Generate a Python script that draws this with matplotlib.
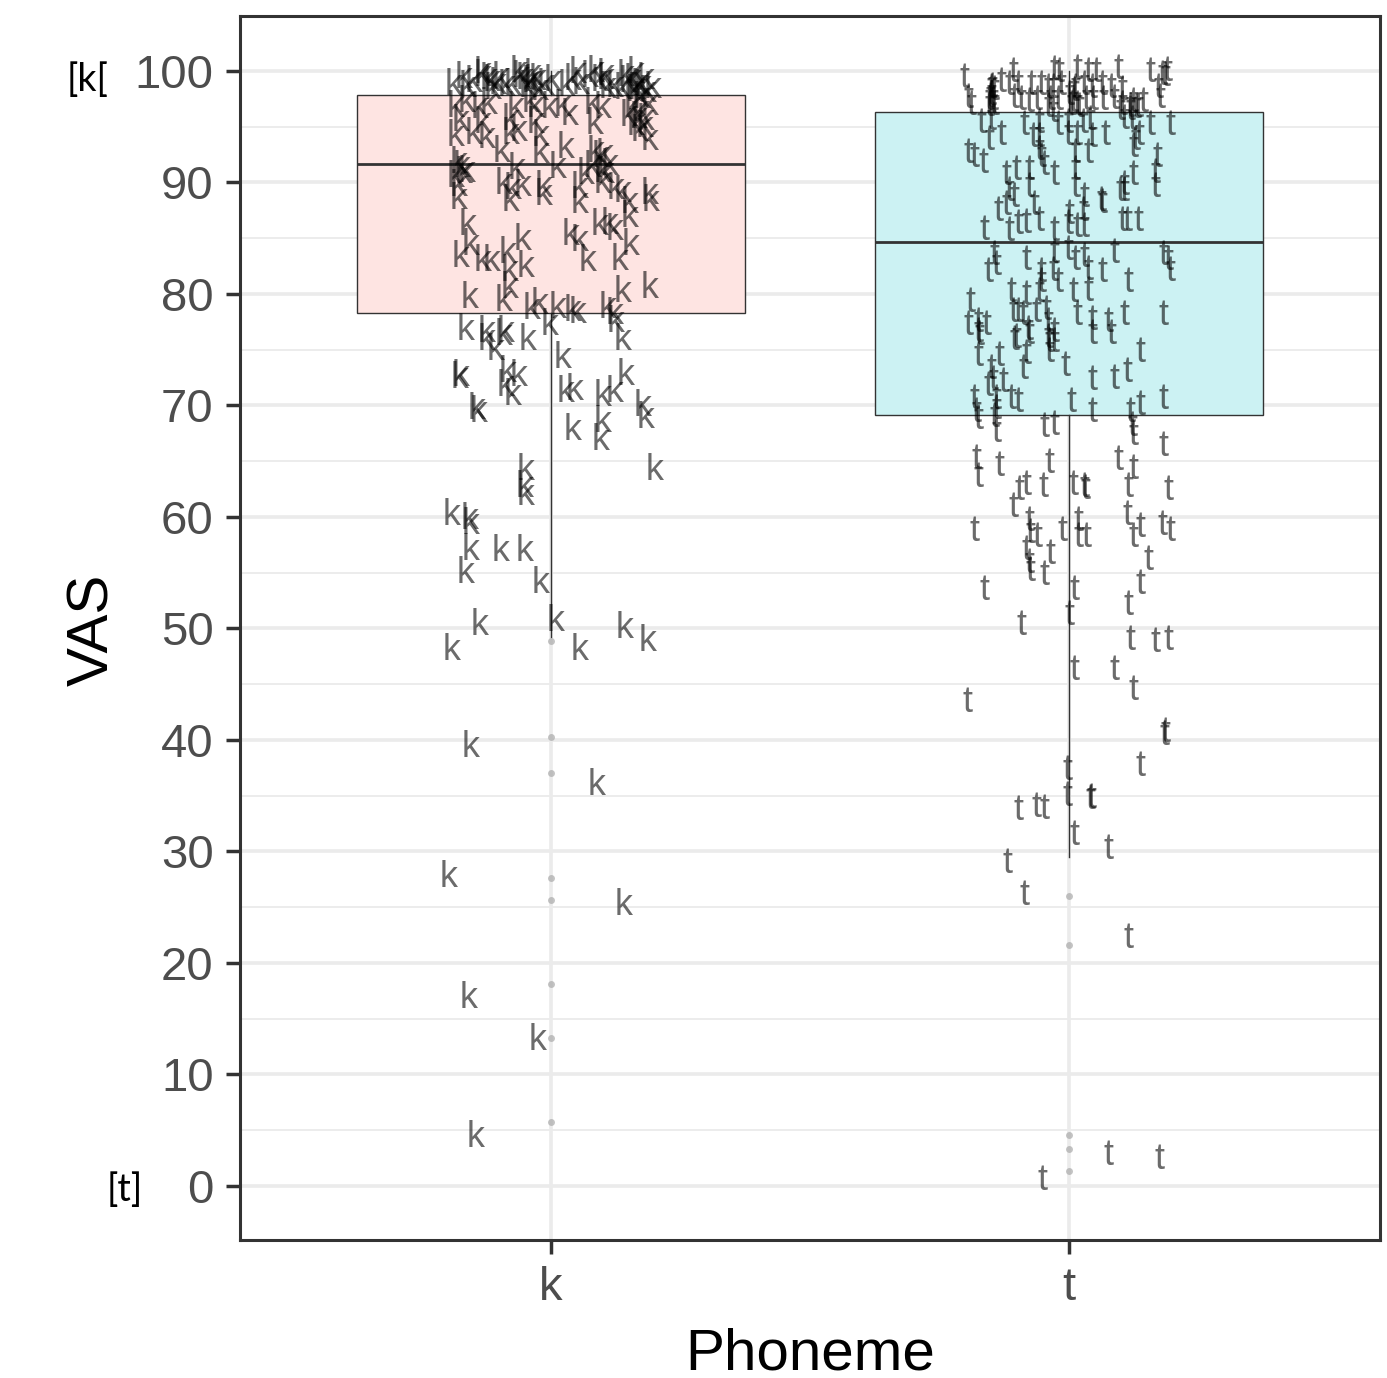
import matplotlib
matplotlib.use("Agg")
import matplotlib.pyplot as plt
from matplotlib.transforms import ScaledTranslation

# ---------------- data ----------------
categories = ["k", "t"]

# box statistics
box_q1 = [78.3, 69.1]
box_med = [91.7, 84.7]
box_q3 = [97.8, 96.3]
whisk_lo = [49.2, 29.5]
whisk_hi = [100.0, 100.0]
k_outliers = [48.9, 40.3, 37.0, 27.6, 25.6, 18.1, 13.3, 5.7]
t_outliers = [26.0, 21.6, 4.6, 3.3, 1.3]

# jittered labels: horizontal jitter (category units) and VAS value
k_jitter = [
    -0.154, 0.088, -0.198, 0.140, -0.158, -0.025, -0.146,
    -0.165, -0.125, -0.092, -0.044, -0.002, 0.023, 0.138, 0.125, -0.106, -0.175, -0.177, -0.083, -0.063,
    -0.088, -0.073, 0.029, 0.046, 0.100, 0.123, 0.144, -0.140, -0.144, 0.177, 0.183, 0.042, 0.100, 0.096,
    0.200, -0.048, -0.050, -0.048, -0.192, -0.156, -0.154, -0.154, -0.098, -0.050, -0.165, -0.019, -0.137,
    0.010, 0.142, -0.192, 0.056, 0.187,
    -0.125, -0.088,
    -0.179, -0.077, -0.015, 0.056, 0.152, 0.192, -0.160, -0.054, 0.038, 0.056, 0.094, 0.113, 0.123, 0.152,
    0.154, -0.175, -0.154, -0.131, -0.115, -0.083, -0.079, -0.048, 0.071, 0.133, -0.079, -0.156, -0.092,
    -0.021, 0.013, 0.042, 0.110, 0.138, 0.190, 0.123, -0.038, 0.052,
    -0.188, -0.169, -0.150, -0.131, -0.115, -0.098, -0.073, -0.058, -0.040, -0.025, -0.010, 0.004, 0.042,
    0.058, 0.075, 0.094, 0.106, 0.123, 0.158, 0.171, 0.183, 0.196,
    -0.131, -0.063, -0.035, 0.052, 0.087, 0.106, 0.163,
    -0.112, -0.102, -0.044, -0.035, -0.021, 0.138, 0.148, 0.162, 0.177, 0.187,
    -0.160, -0.120, -0.085, -0.050, 0.030, 0.110, 0.145, 0.165, 0.175, 0.150, 0.170, 0.180,
    -0.183, -0.163, -0.137, -0.121, -0.069, -0.040, -0.029, -0.002, 0.023, 0.037, 0.081, 0.100, 0.158,
    0.173, 0.190,
    -0.175, -0.131, -0.077, -0.029, 0.085, 0.163, 0.183,
    -0.183, -0.150, -0.125, -0.077, -0.063, -0.019, 0.171, 0.190,
    -0.096, -0.019, 0.029, 0.087, 0.104,
    -0.173, -0.163, -0.067, 0.013, 0.067, 0.081, 0.100, 0.113, -0.179, -0.169, -0.183, 0.096, 0.106,
    -0.179, -0.092, -0.073, -0.054, -0.015, 0.056, 0.100, 0.125, 0.138, 0.190,
]
k_vas = [
    39.6, 36.2, 27.9, 25.4, 17.1, 13.3, 4.6,
    77.0, 76.1, 76.5, 76.1, 77.4, 74.5, 76.1, 77.7, 75.2, 72.9, 72.7, 73.2, 72.9,
    72.0, 71.2, 71.4, 71.6, 71.1, 71.4, 73.0, 69.6, 69.9, 70.2, 69.1, 68.0, 68.7, 67.1,
    64.4, 64.4, 62.9, 62.2, 60.4, 60.0, 59.6, 57.3, 57.2, 57.2, 55.2, 54.3, 50.5,
    50.9, 50.3, 48.3, 48.3, 49.1,
    76.8, 76.8,
    88.7, 88.6, 89.1, 88.4, 88.4, 88.6, 86.4, 85.1, 85.5, 85.0, 86.4, 86.5, 86.0, 87.1,
    84.6, 83.5, 84.6, 83.2, 83.2, 83.9, 82.3, 82.6, 83.2, 83.3, 80.8, 79.9, 79.6,
    79.3, 79.0, 78.7, 79.0, 80.4, 80.8, 78.4, 78.9, 78.5,
    99.0, 99.6, 99.2, 99.8, 99.3, 99.6, 99.0, 99.7, 99.2, 99.4, 99.0, 99.3, 99.4,
    99.1, 99.7, 99.3, 99.5, 98.8, 99.4, 99.0, 99.5, 98.7,
    100.0, 100.1, 99.9, 100.0, 100.1, 99.9, 100.0,
    98.6, 99.1, 98.8, 99.3, 98.5, 98.6, 99.2, 98.4, 98.9, 98.3,
    98.8, 99.5, 98.9, 99.5, 98.9, 98.7, 99.8, 98.6, 97.8, 96.2, 96.0, 95.2,
    97.0, 97.4, 96.9, 97.3, 96.9, 97.4, 97.0, 96.9, 97.1, 96.3, 97.3, 96.9, 97.0,
    96.6, 97.2,
    95.7, 95.6, 95.8, 95.6, 95.5, 95.4, 95.8,
    94.4, 94.6, 94.2, 94.6, 94.8, 94.4, 94.8, 94.0,
    93.0, 92.9, 93.3, 93.0, 92.7,
    91.6, 91.2, 91.4, 91.5, 91.0, 91.6, 91.2, 91.8, 92.0, 91.1, 90.7, 92.5, 91.1,
    89.9, 90.1, 89.6, 89.9, 89.8, 89.7, 90.2, 89.6, 89.4, 89.2,
]

t_jitter = [
    -0.196, 0.187, 0.185, 0.137, -0.004, -0.004, 0.042, 0.044, -0.098, -0.063, -0.048, 0.010, 0.077,
    -0.119, -0.087, 0.115, 0.077, 0.175, -0.052,
    -0.173, -0.102, -0.077, -0.040, -0.029, 0.046, 0.081, -0.175, -0.135, -0.083, -0.088, -0.038, -0.006,
    0.137, -0.150, -0.146, -0.156, -0.127, 0.046, 0.087, 0.113, -0.183, -0.179, -0.140, -0.140, -0.144,
    -0.112, -0.098, 0.004, 0.046, 0.119, 0.138, 0.183,
    -0.175, -0.140, -0.048, -0.029, 0.123, 0.125, 0.183, -0.179, -0.175, -0.135, -0.038, 0.096, 0.125,
    -0.083, -0.096, -0.050, 0.008, 0.029, 0.031, 0.115, 0.192, -0.108, 0.113, -0.183, -0.077, -0.075,
    -0.060, -0.012, 0.019, 0.019, 0.033, 0.125, 0.138, 0.181, 0.196, -0.083, -0.077, -0.035, -0.048,
    -0.075, 0.154, -0.163, 0.010, 0.137, 0.115, 0.000, -0.092, 0.119, 0.167, 0.192, 0.010, 0.087, 0.125,
    -0.202, -0.108, -0.029, -0.019, 0.017, 0.037, 0.052, 0.096, 0.158, 0.187,
    -0.150, -0.144, -0.131, -0.115, -0.098, -0.073, -0.054, -0.040, -0.031, -0.015, 0.013, 0.029, 0.046,
    0.065, 0.081, 0.104, 0.173,
    -0.194, -0.188, -0.154, -0.144, -0.106, -0.092, -0.077, -0.060, -0.035, -0.021, 0.004, 0.017, 0.033,
    0.048, 0.067, 0.087, 0.104, 0.119, 0.133, 0.144, 0.177,
    -0.150, -0.146, -0.154, 0.000, 0.008, 0.100, 0.119,
    -0.148, -0.152, 0.010, 0.020, 0.125, 0.130, -0.040, -0.030, 0.180, 0.190,
    -0.169, -0.150, -0.087, -0.058, -0.021, -0.002, 0.027, 0.042, 0.106, 0.123, 0.158, 0.196,
    -0.154, -0.131, -0.069, -0.058, -0.002, 0.017, 0.046, 0.071, 0.129, 0.135,
    -0.194, -0.183, -0.165, -0.058, -0.054, 0.013, 0.038, 0.125, 0.171,
    -0.121, -0.102, -0.077, -0.048, -0.029, 0.013, 0.106, 0.125, 0.167,
    -0.115, -0.077, 0.013, 0.029, 0.065, 0.100, 0.106, 0.167,
    -0.137, -0.121, -0.106, -0.067, 0.000, 0.027, 0.062,
    -0.163, -0.115, -0.098, -0.083, -0.058, -0.029, -0.002, 0.017, 0.029, 0.104, 0.113, 0.133,
    -0.144, -0.083, -0.029, -0.002, 0.013, 0.029, 0.087, 0.183, 0.192,
    -0.156, -0.140, -0.054, -0.031, 0.037, 0.065, 0.115, 0.196,
    -0.112, -0.083, -0.058, -0.021, 0.008, 0.038, -0.054,
    -0.190, -0.194, -0.175, -0.160, -0.108, -0.098, -0.088, -0.063, -0.044, 0.017, 0.046, 0.077, 0.106,
    0.183,
    -0.175, -0.106, -0.079, -0.040, -0.029, -0.038,
]
t_vas = [
    43.6, 40.9, 40.7, 37.9, 37.5, 35.2, 34.9, 35.0, 33.9, 34.2, 34.0, 31.7, 30.4,
    29.2, 26.3, 22.5, 3.0, 2.6, 0.8,
    76.5, 76.3, 76.6, 76.3, 75.9, 76.6, 76.6, 74.7, 74.7, 74.8, 73.5, 75.0, 73.8,
    75.0, 73.5, 72.5, 72.0, 72.3, 72.5, 72.6, 73.2, 70.8, 69.6, 70.8, 69.9, 69.2,
    70.8, 70.5, 70.5, 69.6, 69.6, 70.3, 70.8,
    69.0, 67.8, 68.3, 68.5, 68.4, 67.6, 66.6, 65.4, 63.8, 64.8, 65.1, 65.3, 64.5,
    63.1, 62.6, 62.9, 63.1, 62.9, 62.7, 62.9, 62.6, 61.1, 60.4, 59.0, 59.9, 58.8,
    58.4, 59.0, 59.9, 58.4, 58.4, 58.4, 59.3, 59.5, 59.0, 57.3, 56.1, 56.9, 55.0,
    55.4, 56.4, 53.7, 53.7, 54.2, 52.3, 51.4, 50.5, 49.2, 49.0, 49.2, 46.5, 46.5, 44.7,
    99.6, 100.1, 100.3, 100.1, 100.4, 100.1, 100.1, 100.4, 100.1, 99.8,
    98.7, 98.5, 99.2, 99.0, 99.0, 99.0, 99.0, 98.7, 98.7, 99.0, 98.7, 99.0, 98.7,
    99.0, 98.7, 98.5, 98.7,
    97.8, 97.2, 97.6, 97.2, 97.8, 97.6, 97.4, 97.6, 97.6, 97.6, 97.2, 97.2, 97.6,
    97.6, 97.6, 97.7, 97.2, 97.0, 97.0, 97.4, 97.8,
    98.1, 97.6, 97.1, 98.1, 97.4, 96.7, 96.7,
    98.8, 97.9, 98.4, 97.0, 97.4, 96.9, 97.0, 96.5, 99.9, 100.2,
    95.6, 95.8, 95.4, 95.6, 95.4, 95.6, 95.6, 95.8, 95.9, 95.8, 95.4, 95.4,
    94.0, 94.5, 94.3, 94.3, 94.5, 94.5, 94.3, 94.5, 94.0, 94.5,
    92.9, 92.5, 92.0, 93.1, 92.5, 92.9, 92.9, 93.4, 92.5,
    90.9, 91.3, 91.3, 91.8, 90.9, 91.3, 90.0, 90.9, 91.1,
    89.5, 89.8, 89.8, 88.9, 88.4, 89.5, 89.5, 89.8,
    87.7, 88.2, 88.9, 88.2, 87.4, 87.7, 88.6,
    86.0, 85.9, 86.5, 86.6, 86.8, 85.9, 86.5, 86.2, 86.2, 86.8, 86.8, 86.8,
    83.7, 83.3, 83.9, 84.2, 83.3, 83.5, 83.9, 83.7, 83.3,
    82.2, 82.8, 82.2, 82.3, 82.4, 82.2, 81.3, 82.3,
    80.4, 80.1, 80.4, 81.3, 80.4, 80.5, 81.3,
    79.5, 77.4, 77.7, 77.4, 78.6, 78.6, 78.3, 78.6, 78.8, 78.3, 77.9, 77.7, 78.3,
    78.3,
    76.8, 76.1, 77.0, 77.7, 76.8, 75.9,
]

y_ticks = [0, 10, 20, 30, 40, 50, 60, 70, 80, 90, 100]
anchor_top = "[k["
anchor_bottom = "[t]"

# ---------------- figure ----------------
W, H = 1387, 1378
fig = plt.figure(figsize=(W / 100, H / 100), dpi=100)
ax = fig.add_axes([240 / W, 1 - 1240 / H, 1140 / W, 1224 / H])

fills = ["#FEE4E2", "#CCF2F3"]
stats = []
for i in range(2):
    stats.append(dict(med=box_med[i], q1=box_q1[i], q3=box_q3[i],
                      whislo=whisk_lo[i], whishi=whisk_hi[i],
                      fliers=[k_outliers, t_outliers][i]))
bp = ax.bxp(stats, positions=[1, 2], widths=0.75, patch_artist=True,
            showcaps=False,
            boxprops=dict(edgecolor="#333333", linewidth=1.0),
            medianprops=dict(color="#333333", linewidth=2.0),
            whiskerprops=dict(color="#333333", linewidth=1.0),
            flierprops=dict(marker="o", markersize=5, markerfacecolor="#AAAAAA",
                            markeredgecolor="none", alpha=0.7))
for patch, fc in zip(bp["boxes"], fills):
    patch.set_facecolor(fc)
for el in bp["boxes"] + bp["medians"] + bp["whiskers"] + bp["fliers"]:
    el.set_zorder(2)

trans = ax.transData + ScaledTranslation(0, -3 / 100, fig.dpi_scale_trans)
for label, jit, vals, pos in [("k", k_jitter, k_vas, 1), ("t", t_jitter, t_vas, 2)]:
    for j, v in zip(jit, vals):
        ax.text(pos + j, v, label, ha="center", va="center", fontsize=26,
                family="Liberation Sans", color="black", alpha=0.58,
                transform=trans, zorder=5)

ax.set_xlim(0.4, 2.6)
ax.set_ylim(-4.85, 104.93)
ax.set_yticks(y_ticks)
ax.set_yticks([v + 5 for v in y_ticks[:-1]], minor=True)
ax.set_xticks([1, 2])
ax.set_xticklabels(categories)
ax.set_axisbelow(True)
ax.grid(which="major", axis="both", color="#EBEBEB", linewidth=2.6)
ax.grid(which="minor", axis="y", color="#EBEBEB", linewidth=1.3)
for s in ax.spines.values():
    s.set_color("#333333")
    s.set_linewidth(2.2)
ax.tick_params(which="major", length=10, width=2.5, color="#333333",
               labelsize=34, labelcolor="#4D4D4D", pad=9)
ax.tick_params(which="minor", length=0)
for lab in ax.get_xticklabels() + ax.get_yticklabels():
    lab.set_family("Liberation Sans")

fig.text(93 / W, 1 - 630 / H, "VAS", rotation=90, ha="center", va="center",
         fontsize=42, family="Liberation Sans", color="black")
fig.text(810 / W, 1 - 1354 / H, "Phoneme", ha="center", va="center",
         fontsize=42, family="Liberation Sans", color="black")
fig.text(88 / W, 1 - 80 / H, anchor_top, ha="center", va="center",
         fontsize=27, family="Lato", color="black")
fig.text(125 / W, 1 - 1190 / H, anchor_bottom, ha="center", va="center",
         fontsize=27, family="Lato", color="black")

fig.savefig("out.png", dpi=100)
